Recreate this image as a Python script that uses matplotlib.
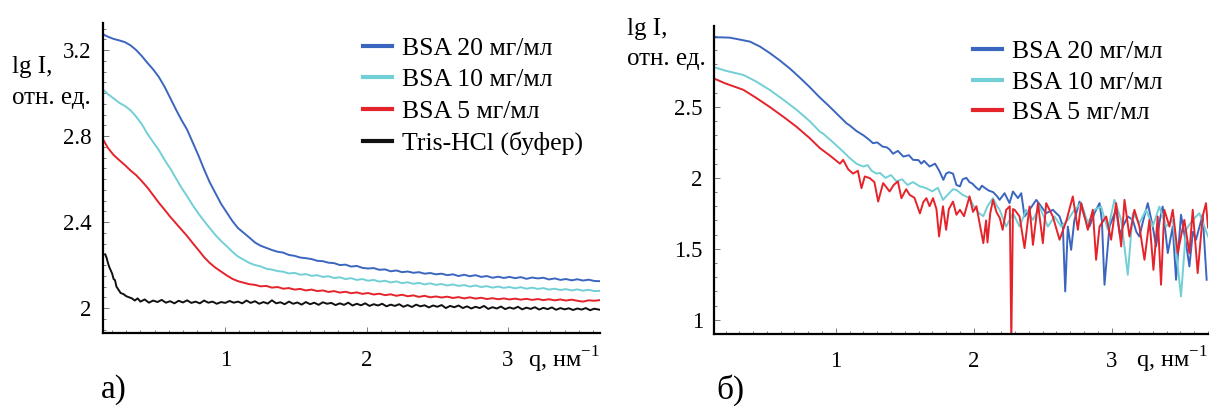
import numpy as np
import matplotlib
matplotlib.use("Agg")
import matplotlib.pyplot as plt
from matplotlib.ticker import MultipleLocator, FuncFormatter

plt.rcParams['font.family'] = ['Liberation Serif', 'DejaVu Serif']
plt.rcParams['mathtext.fontset'] = 'custom'
plt.rcParams['mathtext.rm'] = 'Liberation Serif'

# ---------------- panel a): lg I vs q ----------------
q_a = [0.135,0.17,0.21,0.25,0.29,0.33,0.37,0.41,0.45,0.49,0.53,0.57,0.61,0.65,0.69,0.73,0.77,0.81,0.85,0.89,
       0.93,0.97,1.01,1.05,1.09,1.13,1.17,1.21,1.25,1.29,1.33,1.37,1.41,1.45,1.49,1.53,1.57,1.61,1.65,1.69,
       1.73,1.77,1.81,1.85,1.89,1.93,1.97,2.01,2.05,2.09,2.13,2.17,2.21,2.25,2.29,2.33,2.37,2.41,2.45,2.49,
       2.53,2.57,2.61,2.65,2.69,2.73,2.77,2.81,2.85,2.89,2.93,2.97,3.01,3.05,3.09,3.13,3.17,3.21,3.25,3.29,
       3.33,3.37,3.41,3.45,3.49,3.53,3.57,3.61,3.65]
bsa20_a = [3.274,3.262,3.252,3.245,3.237,3.222,3.20,3.172,3.14,3.11,3.075,3.03,2.978,2.925,2.875,2.83,2.77,2.71,2.645,2.585,
           2.535,2.485,2.445,2.405,2.372,2.35,2.328,2.305,2.29,2.28,2.27,2.262,2.258,2.247,2.243,2.235,2.232,2.228,2.22,2.218,
           2.211,2.209,2.20,2.202,2.193,2.196,2.187,2.184,2.186,2.178,2.18,2.171,2.175,2.167,2.17,2.164,2.167,2.16,2.163,2.157,
           2.16,2.153,2.157,2.149,2.155,2.148,2.153,2.145,2.149,2.141,2.146,2.14,2.145,2.139,2.144,2.136,2.142,2.138,2.141,2.133,
           2.138,2.131,2.135,2.129,2.134,2.128,2.132,2.126,2.125]
bsa10_a = [3.017,2.995,2.975,2.955,2.94,2.92,2.89,2.855,2.81,2.772,2.735,2.69,2.65,2.605,2.56,2.52,2.478,2.44,2.405,2.372,
           2.34,2.312,2.288,2.262,2.24,2.225,2.21,2.20,2.194,2.183,2.179,2.172,2.169,2.161,2.164,2.155,2.158,2.15,2.153,2.145,
           2.148,2.14,2.143,2.135,2.139,2.131,2.135,2.127,2.131,2.123,2.127,2.119,2.124,2.116,2.12,2.113,2.117,2.11,2.115,2.108,
           2.112,2.105,2.11,2.103,2.107,2.10,2.105,2.098,2.102,2.095,2.10,2.094,2.098,2.092,2.097,2.09,2.095,2.089,2.093,2.086,
           2.09,2.084,2.088,2.082,2.087,2.081,2.085,2.079,2.08]
bsa5_a = [2.785,2.745,2.712,2.688,2.665,2.64,2.618,2.59,2.56,2.525,2.49,2.458,2.425,2.395,2.365,2.335,2.302,2.27,2.237,2.21,
          2.188,2.17,2.152,2.136,2.125,2.118,2.111,2.108,2.101,2.103,2.095,2.098,2.09,2.093,2.086,2.089,2.082,2.086,2.079,2.082,
          2.075,2.079,2.072,2.076,2.069,2.073,2.066,2.07,2.063,2.067,2.06,2.064,2.057,2.062,2.055,2.059,2.052,2.057,2.05,2.054,
          2.049,2.053,2.047,2.051,2.045,2.05,2.044,2.048,2.042,2.046,2.041,2.045,2.04,2.044,2.039,2.043,2.038,2.042,2.037,2.041,
          2.036,2.04,2.035,2.039,2.034,2.03,2.036,2.034,2.037]

q_buf = [0.15,0.16,0.17,0.18,0.19,0.20,0.21,0.22,0.23,0.24,0.26,0.28,0.30,0.32,0.34,0.36,0.38,0.40,0.43,0.46,
         0.49,0.52,0.55,0.58,0.61,0.64,0.67,0.70,0.73,0.76,0.79,0.82,0.85,0.88,0.91,0.94,0.97,1.00,1.03,1.06,
         1.09,1.12,1.15,1.18,1.21,1.24,1.27,1.30,1.33,1.36,1.39,1.42,1.45,1.48,1.51,1.54,1.57,1.60,1.63,1.66,
         1.69,1.72,1.75,1.78,1.81,1.84,1.87,1.90,1.93,1.96,1.99,2.02,2.05,2.08,2.11,2.14,2.17,2.20,2.23,2.26,
         2.29,2.32,2.35,2.38,2.41,2.44,2.47,2.50,2.53,2.56,2.59,2.62,2.65,2.68,2.71,2.74,2.77,2.80,2.83,2.86,
         2.89,2.92,2.95,2.98,3.01,3.04,3.07,3.10,3.13,3.16,3.19,3.22,3.25,3.28,3.31,3.34,3.37,3.40,3.43,3.46,
         3.49,3.52,3.55,3.58,3.61,3.65]
tris_a = [2.25,2.235,2.21,2.19,2.175,2.16,2.135,2.13,2.10,2.09,2.07,2.065,2.055,2.05,2.045,2.035,2.045,2.03,2.04,2.025,
          2.035,2.028,2.038,2.025,2.032,2.022,2.034,2.026,2.036,2.024,2.03,2.022,2.035,2.025,2.03,2.02,2.028,2.024,2.033,2.025,
          2.03,2.022,2.035,2.024,2.032,2.02,2.028,2.021,2.036,2.022,2.027,2.018,2.03,2.02,2.026,2.016,2.028,2.018,2.025,2.015,
          2.027,2.02,2.024,2.014,2.022,2.015,2.025,2.012,2.02,2.013,2.022,2.01,2.018,2.012,2.02,2.008,2.016,2.01,2.018,2.006,
          2.014,2.005,2.016,2.008,2.013,2.003,2.012,2.006,2.014,2.0,2.01,2.004,2.012,2.0,2.008,1.998,2.006,2.0,2.01,1.996,
          2.004,1.998,2.007,1.995,2.003,1.997,2.006,1.994,2.002,1.996,2.004,1.993,2.001,1.995,2.003,1.992,2.0,1.994,1.999,1.991,
          1.998,1.993,2.0,1.99,1.997,1.992]

# ---------------- panel б) ----------------
q20_b = [0.116,0.17,0.23,0.30,0.377,0.45,0.52,0.59,0.667,0.74,0.81,0.88,0.957,1.03,1.077,1.10,1.15,1.20,1.24,1.27,
         1.30,1.34,1.37,1.39,1.415,1.45,1.49,1.53,1.56,1.60,1.62,1.64,1.68,1.72,1.75,1.78,1.80,1.82,1.85,1.875,
         1.90,1.92,1.947,1.97,1.99,2.02,2.04,2.06,2.08,2.11,2.14,2.17,2.188,2.224,2.26,2.285,2.321,2.345,2.369,2.405,
         2.454,2.49,2.526,2.574,2.623,2.647,2.664,2.683,2.707,2.73,2.768,2.804,2.84,2.876,2.913,2.93,2.949,2.985,3.01,3.033,
         3.06,3.082,3.118,3.154,3.18,3.202,3.23,3.263,3.299,3.323,3.35,3.371,3.408,3.444,3.468,3.504,3.54,3.565,3.59,3.613,
         3.661,3.69]
bsa20_b = [2.99,2.99,2.988,2.975,2.96,2.925,2.88,2.83,2.77,2.705,2.64,2.57,2.50,2.43,2.385,2.37,2.33,2.30,2.27,2.244,
           2.25,2.22,2.215,2.20,2.17,2.19,2.15,2.16,2.127,2.125,2.10,2.12,2.08,2.10,2.05,1.986,2.03,2.04,2.03,1.95,
           1.94,1.99,2.0,1.97,1.96,1.93,1.915,1.945,1.93,1.91,1.90,1.87,1.845,1.892,1.822,1.904,1.857,1.892,1.728,1.775,
           1.845,1.798,1.751,1.775,1.728,1.657,1.20,1.657,1.493,1.70,1.833,1.728,1.657,1.751,1.822,1.70,1.247,1.657,1.72,1.775,
           1.60,1.657,1.728,1.704,1.62,1.587,1.70,1.822,1.657,1.517,1.70,1.798,1.47,1.657,1.282,1.74,1.54,1.376,1.62,1.564,
           1.74,1.282]

q10_b = [0.116,0.20,0.33,0.42,0.52,0.62,0.715,0.81,0.884,0.91,0.98,1.053,1.10,1.15,1.198,1.23,1.26,1.295,1.32,1.36,
         1.40,1.44,1.48,1.52,1.56,1.61,1.65,1.70,1.74,1.777,1.81,1.85,1.875,1.92,1.97,2.00,2.04,2.07,2.10,2.14,
         2.17,2.188,2.236,2.285,2.333,2.381,2.43,2.478,2.538,2.586,2.635,2.683,2.731,2.78,2.828,2.876,2.924,2.973,3.021,3.07,
         3.118,3.154,3.202,3.251,3.299,3.347,3.395,3.444,3.504,3.54,3.589,3.637,3.70]
bsa10_b = [2.78,2.755,2.725,2.68,2.62,2.55,2.48,2.40,2.326,2.31,2.25,2.185,2.14,2.10,2.08,2.09,2.05,2.03,2.035,2.00,
           2.02,1.975,1.99,1.95,1.97,1.94,1.93,1.905,1.93,1.845,1.88,1.92,1.915,1.88,1.857,1.80,1.75,1.73,1.80,1.857,
           1.80,1.775,1.657,1.751,1.657,1.775,1.704,1.798,1.657,1.728,1.657,1.704,1.775,1.822,1.681,1.775,1.798,1.634,1.845,1.704,
           1.317,1.751,1.681,1.775,1.657,1.798,1.657,1.704,1.165,1.634,1.704,1.751,1.587]

q5_b = [0.116,0.20,0.33,0.42,0.52,0.62,0.715,0.81,0.884,0.96,1.03,1.053,1.09,1.125,1.16,1.186,1.21,1.246,1.28,1.307,
        1.343,1.37,1.39,1.42,1.45,1.476,1.51,1.536,1.57,1.61,1.635,1.657,1.68,1.705,1.73,1.749,1.777,1.80,1.82,1.85,
        1.875,1.90,1.93,1.95,1.97,1.995,2.02,2.043,2.07,2.09,2.10,2.12,2.14,2.165,2.19,2.21,2.236,2.262,2.273,2.285,
        2.297,2.333,2.369,2.405,2.43,2.466,2.502,2.526,2.574,2.623,2.671,2.719,2.756,2.78,2.828,2.864,2.888,2.913,2.961,2.997,
        3.033,3.07,3.094,3.13,3.166,3.202,3.239,3.275,3.304,3.335,3.359,3.383,3.42,3.444,3.48,3.528,3.565,3.589,3.625,3.661,
        3.685,3.70]
bsa5_b = [2.70,2.665,2.62,2.565,2.50,2.43,2.36,2.28,2.21,2.155,2.10,2.127,2.06,2.03,2.05,1.927,2.01,1.998,1.97,1.833,
          1.963,1.93,1.904,1.95,1.975,1.857,1.92,1.88,1.86,1.75,1.83,1.857,1.80,1.857,1.78,1.587,1.80,1.634,1.78,1.833,
          1.74,1.775,1.73,1.80,1.87,1.76,1.80,1.68,1.54,1.70,1.545,1.75,1.845,1.76,1.716,1.634,1.775,1.80,0.85,1.78,
          1.775,1.728,1.505,1.798,1.528,1.822,1.54,1.822,1.728,1.564,1.693,1.869,1.634,1.822,1.634,1.775,1.423,1.657,1.728,1.564,
          1.822,1.517,1.845,1.587,1.775,1.657,1.423,1.704,1.352,1.728,1.247,1.775,1.657,1.775,1.47,1.704,1.47,1.775,1.329,1.728,
          1.822,1.65]

labels_a = ['BSA 20 мг/мл', 'BSA 10 мг/мл', 'BSA 5 мг/мл', 'Tris-HCl (буфер)']
labels_b = ['BSA 20 мг/мл', 'BSA 10 мг/мл', 'BSA 5 мг/мл']
c_blue, c_cyan, c_red, c_black = '#3b66bf', '#72cfd6', '#e5232b', '#111111'

fig = plt.figure(figsize=(12.13, 4.07), dpi=100)
ax1 = fig.add_axes([0.0849, 0.1818, 0.4097, 0.7617])
ax2 = fig.add_axes([0.5886, 0.1794, 0.4073, 0.7567])

ax1.plot(q_a, bsa20_a, color=c_blue, lw=1.4, label=labels_a[0])
ax1.plot(q_a, bsa10_a, color=c_cyan, lw=1.4, label=labels_a[1])
ax1.plot(q_a, bsa5_a, color=c_red, lw=1.4, label=labels_a[2])
ax1.plot(q_buf, tris_a, color=c_black, lw=1.4, label=labels_a[3])
ax1.set_xlim(0.135, 3.65)
ax1.set_ylim(1.884, 3.326)
ax1.set_xticks([1, 2, 3])
ax1.set_yticks([2, 2.4, 2.8, 3.2])
ax1.yaxis.set_minor_locator(MultipleLocator(0.05))

ax2.plot(q20_b, bsa20_b, color=c_blue, lw=1.4, label=labels_b[0])
ax2.plot(q10_b, bsa10_b, color=c_cyan, lw=1.4, label=labels_b[1])
ax2.plot(q5_b, bsa5_b, color=c_red, lw=1.4, label=labels_b[2])
ax2.set_xlim(0.116, 3.70)
ax2.set_ylim(0.90, 3.07)
ax2.set_xticks([1, 2, 3])
ax2.set_yticks([1, 1.5, 2, 2.5])
ax2.yaxis.set_minor_locator(MultipleLocator(0.1))

for ax in (ax1, ax2):
    ax.spines['top'].set_visible(False)
    ax.spines['right'].set_visible(False)
    ax.spines['left'].set_linewidth(1.6)
    ax.spines['bottom'].set_linewidth(1.6)
    ax.xaxis.set_minor_locator(MultipleLocator(0.1))
    ax.yaxis.set_major_formatter(FuncFormatter(lambda v, p: f'{v:g}'))
    ax.tick_params(which='both', direction='in', color='#666666', width=0.6, labelsize=16.5)
    ax.tick_params(which='major', length=4)
    ax.tick_params(which='minor', length=2.5)
    ax.tick_params(axis='y', pad=8)
    ax.tick_params(axis='x', pad=12)
    ax.text(1.0, -0.085, 'q, нм$^{\\mathregular{-1}}$', transform=ax.transAxes,
            ha='right', va='center', fontsize=17.5)

leg1 = ax1.legend(loc='upper left', bbox_to_anchor=(0.523, 0.955), frameon=False, fontsize=18.5,
                  handlelength=1.13, handletextpad=0.39, labelspacing=0.33, borderpad=0, borderaxespad=0)
leg2 = ax2.legend(loc='upper left', bbox_to_anchor=(0.524, 0.955), frameon=False, fontsize=18.5,
                  handlelength=1.13, handletextpad=0.39, labelspacing=0.3, borderpad=0, borderaxespad=0)
for leg in (leg1, leg2):
    for h in leg.get_lines():
        h.set_linewidth(3)

# axis captions and panel letters
fig.text(12/1213, 1-67/407, 'lg I,', fontsize=18, va='center', ha='left')
fig.text(12/1213, 1-98/407, 'отн. ед.', fontsize=18, va='center', ha='left')
fig.text(627/1213, 1-29/407, 'lg I,', fontsize=18, va='center', ha='left')
fig.text(627/1213, 1-59/407, 'отн. ед.', fontsize=18, va='center', ha='left')
fig.text(101/1213, 1-390/407, 'а)', fontsize=24, va='center', ha='left')
fig.text(716/1213, 1-390/407, 'б)', fontsize=24, va='center', ha='left')

fig.savefig('out.png', dpi=100)
